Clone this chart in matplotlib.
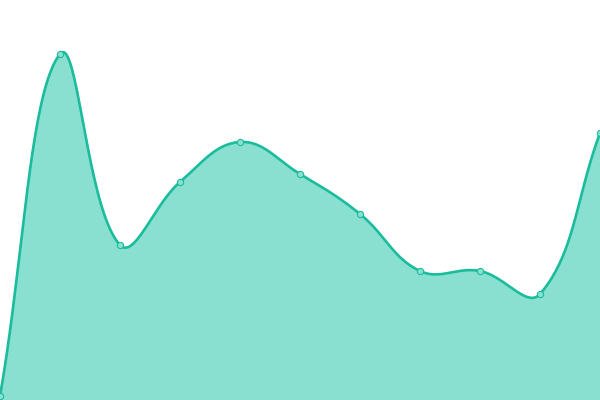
import numpy as np
import matplotlib
matplotlib.use("Agg")
import matplotlib.pyplot as plt

# values (chart height 0..400)
steps = list(range(11))
values = [4, 346, 155, 218, 258, 226, 186, 129, 129, 106, 267]

line_color = "#1abc9c"
fill_color = "#8ae0d0"

W, H = 600, 400
x_max, y_max = 10, 400


def spline(xs, ys, tension=0.4, n=40):
    # bezier spline in pixel space, control points as a 0.4 tension curve
    px = np.asarray(xs, float) * W / x_max
    py = np.asarray(ys, float) * H / y_max
    pts = np.column_stack([px, py])
    m = len(pts)
    prev_cp = pts.copy()
    next_cp = pts.copy()
    for i in range(m):
        p0 = pts[max(i - 1, 0)]
        p1 = pts[i]
        p2 = pts[min(i + 1, m - 1)]
        d01 = np.hypot(*(p1 - p0))
        d12 = np.hypot(*(p2 - p1))
        tot = d01 + d12
        s01 = d01 / tot if tot else 0
        s12 = d12 / tot if tot else 0
        prev_cp[i] = p1 - tension * s01 * (p2 - p0)
        next_cp[i] = p1 + tension * s12 * (p2 - p0)
    prev_cp[:, 0] = np.clip(prev_cp[:, 0], 0, W)
    next_cp[:, 0] = np.clip(next_cp[:, 0], 0, W)
    prev_cp[:, 1] = np.clip(prev_cp[:, 1], 0, H)
    next_cp[:, 1] = np.clip(next_cp[:, 1], 0, H)
    t = np.linspace(0, 1, n, endpoint=False)[:, None]
    out = []
    for i in range(m - 1):
        a, b, c, d = pts[i], next_cp[i], prev_cp[i + 1], pts[i + 1]
        out.append((1 - t) ** 3 * a + 3 * (1 - t) ** 2 * t * b
                   + 3 * (1 - t) * t ** 2 * c + t ** 3 * d)
    out.append(pts[-1][None, :])
    out = np.vstack(out)
    return out[:, 0] * x_max / W, out[:, 1] * y_max / H


sx, sy = spline(steps, values)

fig = plt.figure(figsize=(6, 4), dpi=100)
ax = fig.add_axes([0, 0, 1, 1])
ax.fill_between(sx, sy, 0, color=fill_color, linewidth=0)
ax.plot(sx, sy, color=line_color, linewidth=1.9, solid_capstyle="round")
ax.plot(steps, values, linestyle="none", marker="o", markersize=4.5,
        markerfacecolor=fill_color, markeredgecolor=line_color,
        markeredgewidth=0.8)
ax.set_xlim(0, x_max)
ax.set_ylim(0, y_max)
ax.axis("off")

fig.savefig("out.png", dpi=100)
